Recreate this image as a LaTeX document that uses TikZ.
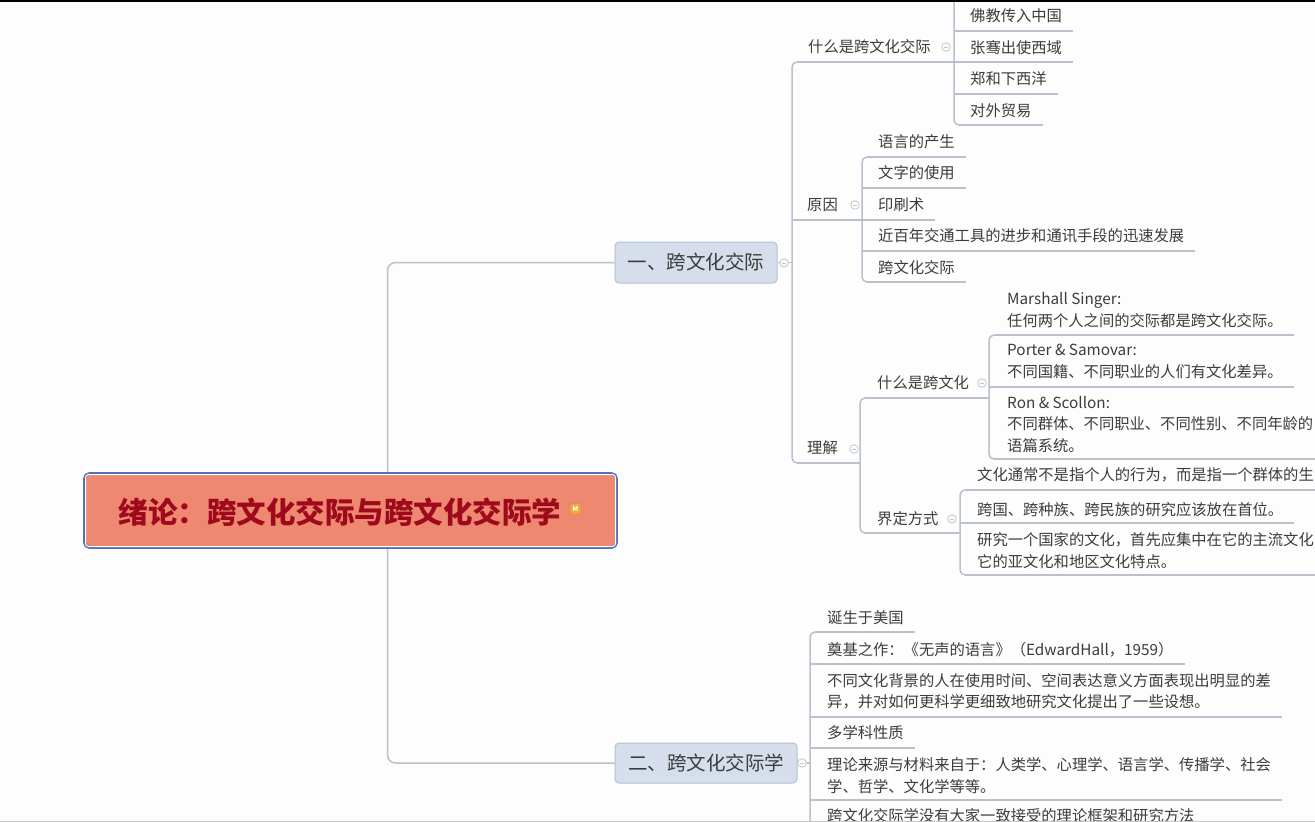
\documentclass[tikz,border=0pt]{standalone}
\usepackage{fontspec}
\setmainfont{Noto Sans CJK SC}
\pgfdeclarelayer{back}
\pgfdeclarelayer{bg}
\pgfsetlayers{back,bg,main}
\definecolor{lnc}{HTML}{B9C1CD}
\definecolor{txtc}{HTML}{3C3C3C}
\definecolor{brfill}{HTML}{D5DEEA}
\definecolor{brdraw}{HTML}{B3C0D2}
\definecolor{rootfill}{HTML}{EE8870}
\definecolor{rootdraw}{HTML}{5672AE}
\definecolor{roottxt}{HTML}{9E0A1C}
\definecolor{collc}{HTML}{C4C4C4}
\definecolor{bgc}{HTML}{FDFDFD}
\definecolor{micon}{HTML}{EFA93F}
\newcommand\mmleaf[6]{%
  \node[topic] (#1) at (#4,#5) {#6};
  \coordinate (#1u) at (#2,#3);
  \begin{pgfonlayer}{bg}\draw[ln] ([xshift=5]#1u) -- (#1u -| #1.east) -- ++(11,0);\end{pgfonlayer}
}
\newcommand\mmstub[1]{\begin{pgfonlayer}{bg}\draw[ln] (#1) -- ++(6,0);\end{pgfonlayer}}
\begin{document}
\begin{tikzpicture}[x=1pt,y=-1pt,
  ln/.style={draw=lnc, line width=1.5},
  topic/.style={anchor=west, inner sep=0, text=txtc, align=left,
    font=\fontsize{15.3}{21.5}\selectfont},
  branch/.style={draw=brdraw, fill=brfill, rounded corners=4, line width=1,
    text=txtc, font=\fontsize{19.5}{22}\selectfont, inner sep=0},
  coll/.style={circle, draw=collc, fill=white, line width=0.8, minimum size=8.5, inner sep=0,
    path picture={\draw[collc, line width=0.8] ([xshift=-2.2]path picture bounding box.center) -- ([xshift=2.2]path picture bounding box.center);}},
]
\useasboundingbox (0,0) rectangle (1315,822);
\clip (0,0) rectangle (1315,822);
\begin{pgfonlayer}{back}
\fill[bgc] (0,0) rectangle (1315,822);
\end{pgfonlayer}

% root
\node[draw=rootdraw, fill=rootfill, line width=2.8, rounded corners=5,
      minimum width=532, minimum height=74, inner sep=0] (rootbox) at (350.5,510.5) {};
\draw[white, line width=1, rounded corners=3] ([shift={(2.4,2.4)}]rootbox.north west) rectangle ([shift={(-2.4,-2.4)}]rootbox.south east);
\node[text=roottxt, font=\fontsize{29.5}{30}\selectfont\bfseries, inner sep=0] (root) at (340,512) {绪论：跨文化交际与跨文化交际学};
\node[fill=micon, draw=micon!80!black, line width=0.4, rounded corners=1.5, minimum size=11, inner sep=0,
      text=white, font=\fontsize{6.5}{7}\selectfont\bfseries] (mi) at (575.5,509) {M};

% branches
\node[branch, minimum width=162, minimum height=41] (b1) at (696,262.5) {一、跨文化交际};
\node[branch, minimum width=182, minimum height=40] (b2) at (706,763) {二、跨文化交际学};

% level 1 under b1
\node[topic] (A) at (808,47) {什么是跨文化交际}; \coordinate (Au) at (792,62);
\node[topic] (B) at (807,205) {原因}; \coordinate (Bu) at (792,220);
\node[topic] (C) at (807,448) {理解}; \coordinate (Cu) at (792,463);

% A children
\mmleaf{A1}{954}{31}{970}{15.5}{佛教传入中国}
\mmleaf{A2}{954}{62}{970}{47.5}{张骞出使西域}
\mmleaf{A3}{954}{94}{970}{79}{郑和下西洋}
\mmleaf{A4}{954}{125}{970}{111}{对外贸易}

% B children
\mmleaf{B1}{862}{157}{878}{142}{语言的产生}
\mmleaf{B2}{862}{188}{878}{173}{文字的使用}
\mmleaf{B3}{862}{220}{878}{204.5}{印刷术}
\mmleaf{B4}{862}{251}{878}{236}{近百年交通工具的进步和通讯手段的迅速发展}
\mmleaf{B5}{862}{282}{878}{267.5}{跨文化交际}

% C children
\node[topic] (C1) at (877,383) {什么是跨文化}; \coordinate (C1u) at (860,398);
\node[topic] (C2) at (877,519) {界定方式}; \coordinate (C2u) at (860,533);

\mmleaf{C11}{989}{335}{1007}{310}{Marshall Singer:\\任何两个人之间的交际都是跨文化交际。}
\mmleaf{C12}{989}{387}{1007}{361.5}{Porter \& Samovar:\\不同国籍、不同职业的人们有文化差异。}
\mmleaf{C13}{989}{459}{1007}{424.5}{Ron \& Scollon:\\不同群体、不同职业、不同性别、不同年龄的\\语篇系统。}

\mmleaf{C21}{960}{490}{977}{475}{文化通常不是指个人的行为，而是指一个群体的生}
\mmleaf{C22}{960}{523}{977}{510}{跨国、跨种族、跨民族的研究应该放在首位。}
\mmleaf{C23}{960}{575}{977}{550.5}{研究一个国家的文化，首先应集中在它的主流文化\\它的亚文化和地区文化特点。}

% b2 children
\mmleaf{D1}{810}{632}{827}{618}{诞生于美国}
\mmleaf{D2}{810}{664}{827}{650}{奠基之作：《无声的语言》（EdwardHall，1959）}
\mmleaf{D3}{810}{717}{827}{691.5}{不同文化背景的人在使用时间、空间表达意义方面表现出明显的差\\异，并对如何更科学更细致地研究文化提出了一些设想。}
\mmleaf{D4}{810}{748}{827}{733}{多学科性质}
\mmleaf{D5}{810}{800}{827}{775.5}{理论来源与材料来自于：人类学、心理学、语言学、传播学、社会\\学、哲学、文化学等等。}
\mmleaf{D6}{810}{831}{827}{816}{跨文化交际学没有大家一致接受的理论框架和研究方法}

% connectors
\begin{pgfonlayer}{bg}
\draw[ln, rounded corners=8] (b1.west) -- ++(-227,0) |- (b2.west);
\draw[ln] (b1.east) -- (b1.east -| Au);
\draw[ln] (b2.east) -- (b2.east -| D1u);
% branch 1 bar
\draw[ln, rounded corners=5] ([xshift=5]Au) -- (Au) -- (Cu) -- ([xshift=5]Cu);
\draw[ln] ([xshift=5]Au) -- (Au -| A1u);
\draw[ln] (Bu) -- (Bu -| B1u);
\draw[ln] ([xshift=5]Cu) -- (Cu -| C1u);
% A bar
\draw[ln, rounded corners=5] ([yshift=40]A1u) -- (A4u) -- ([xshift=6]A4u);
% B bar
\draw[ln, rounded corners=5] ([xshift=6]B1u) -- (B1u) -- (B5u) -- ([xshift=6]B5u);
% C bar
\draw[ln, rounded corners=5] ([xshift=6]C1u) -- (C1u) -- (C2u) -- ([xshift=6]C2u);
\draw[ln] ([xshift=5]C1u) -- (C1u -| C11u);
\draw[ln] ([xshift=5]C2u) -- (C2u -| C21u);
\draw[ln, rounded corners=5] ([xshift=6]C11u) -- (C11u) -- (C13u) -- ([xshift=6]C13u);
\draw[ln, rounded corners=5] ([xshift=6]C21u) -- (C21u) -- (C23u) -- ([xshift=6]C23u);
% D bar
\draw[ln, rounded corners=5] ([xshift=6]D1u) -- (D1u) -- ([yshift=-60]D6u);
\end{pgfonlayer}
\mmstub{A1u}\mmstub{A2u}\mmstub{A3u}
\mmstub{B2u}\mmstub{B3u}\mmstub{B4u}
\mmstub{C12u}\mmstub{C22u}
\mmstub{D2u}\mmstub{D3u}\mmstub{D4u}\mmstub{D5u}\mmstub{D6u}

% collapse markers
\node[coll] (kA) at (946,47) {};
\node[coll] (kB) at (855,205) {};
\node[coll] (k1) at (784,263) {};
\node[coll] (kC1) at (982,383) {};
\node[coll] (kC) at (854,449) {};
\node[coll] (kC2) at (952,519) {};
\node[coll] (k2) at (802,763) {};

% window edges
\fill[black] (0,0) rectangle (1315,1.8);
\fill[black!22] (0,820.5) rectangle (1315,822);
\end{tikzpicture}
\end{document}
